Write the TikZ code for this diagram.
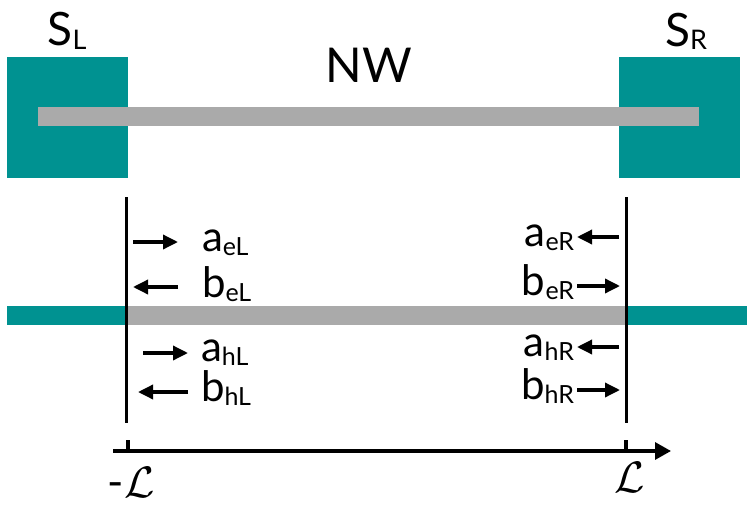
\documentclass[tikz,border=0pt]{standalone}
\usepackage{fix-cm}
\usepackage{fontspec}
\setmainfont{Lato}
\usetikzlibrary{arrows.meta}
\definecolor{teal1}{HTML}{009291}
\definecolor{gray1}{HTML}{AAAAAA}
\newcommand{\biglab}[2]{{\fontsize{42}{44}\selectfont #1}\raisebox{-4pt}{\fontsize{25}{27}\selectfont #2}}
\newcommand{\slab}[2]{{\fontsize{46}{48}\selectfont #1}\raisebox{-3pt}{\fontsize{27}{29}\selectfont #2}}
\tikzset{
  lbl/.style={inner sep=0pt, outer sep=0pt},
  flow/.style={line width=3.4pt, -{Triangle[length=15pt,width=14pt]}},
  wall/.style={line width=3pt},
}
\begin{document}
\begin{tikzpicture}[x=1pt,y=-1pt]
\useasboundingbox (0,0) rectangle (747,511);
% top sketch
\fill[teal1] (7,57) rectangle (128,178);
\fill[teal1] (619,57) rectangle (740,178);
\fill[gray1] (38,107) rectangle (699,126);
\node[lbl, anchor=base] (sl) at (67,46) {\slab{S}{L}};
\node[lbl, anchor=base] (sr) at (686,47) {\slab{S}{R}};
\node[lbl, anchor=base] (nw) at (369,82) {\fontsize{48}{50}\selectfont NW};
% lower sketch
\fill[teal1] (7,306) rectangle (127,325);
\fill[gray1] (127,306) rectangle (626,325);
\fill[teal1] (626,306) rectangle (747,325);
\coordinate (lt) at (126.5,197);
\coordinate (lb) at (126.5,423);
\coordinate (rt) at (626,197);
\coordinate (rb) at (626,423);
\draw[wall] (lt) -- (lb);
\draw[wall] (rt) -- (rb);
% left arrows and labels
\draw[flow] (133,242) -- (178,242);
\draw[flow] (178,287) -- (133,287);
\draw[flow] (143,353) -- (188,353);
\draw[flow] (188,392) -- (138,392);
\node[lbl, anchor=base west] (ael) at (202,251) {\biglab{a}{eL}};
\node[lbl, anchor=base west] (bel) at (202,297) {\biglab{b}{eL}};
\node[lbl, anchor=base west] (ahl) at (201,361) {\biglab{a}{hL}};
\node[lbl, anchor=base west] (bhl) at (201,401) {\biglab{b}{hL}};
% right arrows and labels
\draw[flow] (619,237) -- (577,237);
\draw[flow] (577,286) -- (620,286);
\draw[flow] (619,347) -- (577,347);
\draw[flow] (577,390) -- (620,390);
\node[lbl, anchor=base east] (aer) at (574,246) {\biglab{a}{eR}};
\node[lbl, anchor=base east] (ber) at (574,295) {\biglab{b}{eR}};
\node[lbl, anchor=base east] (ahr) at (574,356) {\biglab{a}{hR}};
\node[lbl, anchor=base east] (bhr) at (574,399) {\biglab{b}{hR}};
% axis
\coordinate (ax0) at (113,451);
\coordinate (ax1) at (671,451);
\draw[line width=3.2pt, -{Triangle[length=16pt,width=17pt]}] (ax0) -- (ax1);
\draw[line width=3.2pt] (128,440) -- (128,451);
\draw[line width=3.2pt] (626,440) -- (626,451);
\node[lbl, anchor=base] (ml) at (131,497) {\fontsize{44}{46}\selectfont -$\mathcal{L}$};
\node[lbl, anchor=base] (pl) at (630,492) {\fontsize{44}{46}\selectfont $\mathcal{L}$};
\end{tikzpicture}
\end{document}
